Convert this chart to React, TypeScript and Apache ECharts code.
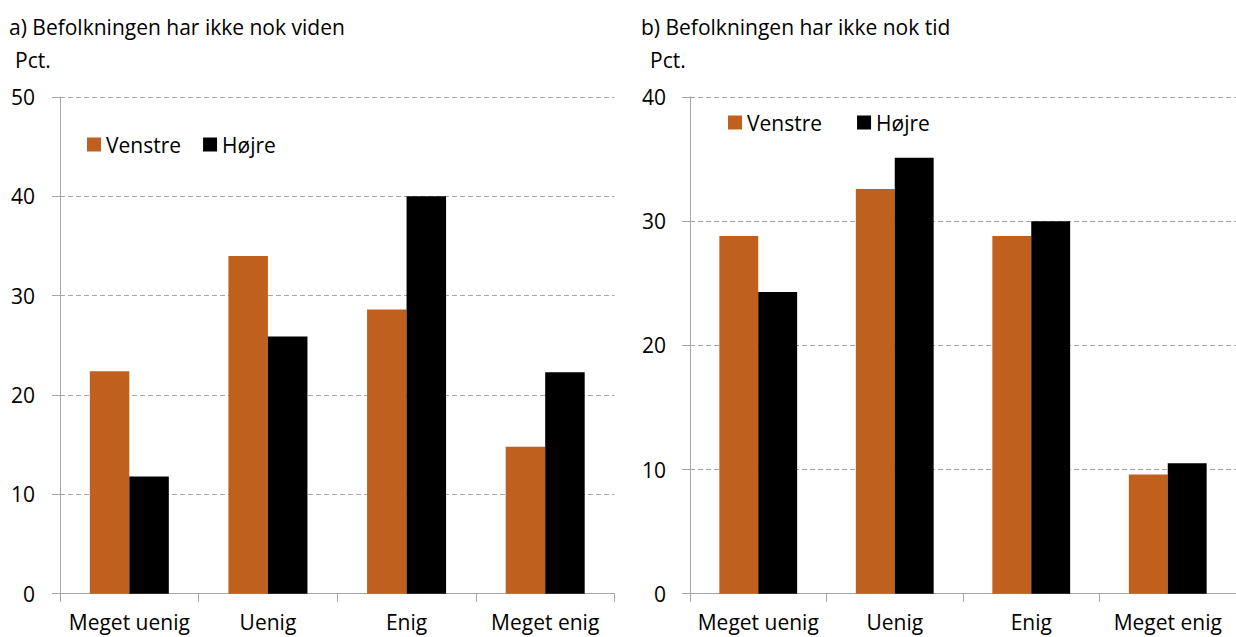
import React, { useEffect, useRef } from "react";
import * as echarts from "echarts";

const categories = ["Meget uenig", "Uenig", "Enig", "Meget enig"];
const vidensVenstre = [22.4, 34.0, 28.6, 14.8];
const vidensHojre = [11.8, 25.9, 40.0, 22.3];
const tidVenstre = [28.8, 32.6, 28.8, 9.6];
const tidHojre = [24.3, 35.1, 30.0, 10.5];
const seriesNames = ["Venstre", "Højre"];
const titleA = "a) Befolkningen har ikke nok viden";
const titleB = "b) Befolkningen har ikke nok tid";
const unitLabel = "Pct.";

const FONT = "'Open Sans', sans-serif";
const ORANGE = "#C0601E";
const BLACK = "#000000";
const GRAY = "#a6a6a6";

export default function App() {
  const ref = useRef<HTMLDivElement>(null);
  useEffect(() => {
    if (!ref.current) return;
    const chart = echarts.init(ref.current, undefined, { renderer: "svg" });

    const xAxisBase = (gridIndex: number) => ({
      type: "category" as const,
      gridIndex,
      data: categories,
      axisLine: { show: true, lineStyle: { color: GRAY, width: 1 } },
      axisTick: { show: true, length: 8, lineStyle: { color: GRAY } },
      axisLabel: { color: "#000", fontSize: 21, fontFamily: FONT, margin: 18, interval: 0 },
    });
    const yAxisBase = (gridIndex: number, max: number, margin: number) => ({
      type: "value" as const,
      gridIndex,
      min: 0,
      max,
      interval: 10,
      axisLine: { show: true, lineStyle: { color: GRAY, width: 1 } },
      axisTick: { show: true, length: 8, lineStyle: { color: GRAY } },
      axisLabel: { color: "#000", fontSize: 21, fontFamily: FONT, margin },
      splitLine: { show: true, lineStyle: { color: GRAY, type: [5, 3], width: 1 } },
    });

    const legendBase = {
      data: seriesNames,
      icon: "rect",
      itemWidth: 14,
      itemHeight: 14,
      textStyle: { color: "#000", fontSize: 21, fontFamily: FONT },
      padding: 0,
      selectedMode: false,
    };

    const text = (t: string, x: number, y: number) => ({
      type: "text",
      x,
      y,
      style: { text: t, font: `21px ${FONT}`, fill: "#000", textVerticalAlign: "middle" },
    });

    chart.setOption({
      animation: false,
      backgroundColor: "#ffffff",
      grid: [
        { left: 60, right: 621.5, top: 97, bottom: 43.3 },
        { left: 690, right: -11, top: 97, bottom: 43.3 },
      ],
      xAxis: [xAxisBase(0), xAxisBase(1)],
      yAxis: [yAxisBase(0, 50, 25), yAxisBase(1, 40, 24)],
      legend: [
        { ...legendBase, left: 87, top: 134, itemGap: 22 },
        { ...legendBase, left: 728, top: 112, itemGap: 35 },
      ],
      graphic: [
        text(titleA, 9, 27),
        text(unitLabel, 15, 60),
        text(titleB, 641, 27),
        text(unitLabel, 650, 60),
      ],
      series: [
        { name: seriesNames[0], type: "bar", xAxisIndex: 0, yAxisIndex: 0, data: vidensVenstre, itemStyle: { color: ORANGE }, barGap: "0%", barCategoryGap: "43%" },
        { name: seriesNames[1], type: "bar", xAxisIndex: 0, yAxisIndex: 0, data: vidensHojre, itemStyle: { color: BLACK }, barGap: "0%", barCategoryGap: "43%" },
        { name: seriesNames[0], type: "bar", xAxisIndex: 1, yAxisIndex: 1, data: tidVenstre, itemStyle: { color: ORANGE }, barGap: "0%", barCategoryGap: "43%" },
        { name: seriesNames[1], type: "bar", xAxisIndex: 1, yAxisIndex: 1, data: tidHojre, itemStyle: { color: BLACK }, barGap: "0%", barCategoryGap: "43%" },
      ],
    });
    return () => chart.dispose();
  }, []);

  return (
    <div
      ref={ref}
      style={{ position: "absolute", left: 0, top: 0, width: 1236, height: 637, background: "#fff" }}
    />
  );
}
